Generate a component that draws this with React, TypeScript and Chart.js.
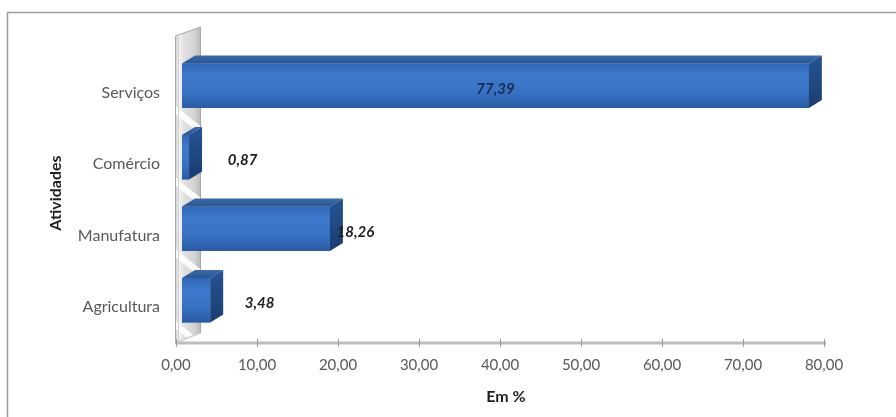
import React, { useEffect, useRef } from "react";
import { Chart, registerables } from "chart.js";

Chart.register(...registerables);

const categories = ["Serviços", "Comércio", "Manufatura", "Agricultura"];
const values = [77.39, 0.87, 18.26, 3.48];
const xMin = 0;
const xMax = 80;
const xStep = 10;
const xAxisTitle = "Em %";
const yAxisTitle = "Atividades";

const fmt = (v: number) => Number(v).toFixed(2).replace(".", ",");

const DX = 13;
const DY = -8;
const FONT = "Lato, 'Open Sans', sans-serif";

const bar3dPlugin = {
  id: "bar3d",
  beforeDraw(chart: any) {
    const ctx = chart.ctx as CanvasRenderingContext2D;
    const { left, top, bottom } = chart.chartArea;
    ctx.save();
    ctx.fillStyle = "#ffffff";
    ctx.fillRect(0, 0, chart.width, chart.height);
    ctx.strokeStyle = "#9c9c9c";
    ctx.lineWidth = 1.5;
    ctx.strokeRect(7.5, 12.5, chart.width + 20, chart.height + 20);

    // left wall
    const wx0 = left - 7;
    const wx1 = left + 18;
    const pts: [number, number][] = [
      [wx0, top - 14],
      [wx1, top - 23],
      [wx1, bottom - 3],
      [wx0, bottom + 7],
    ];
    ctx.beginPath();
    ctx.moveTo(pts[0][0], pts[0][1]);
    for (let i = 1; i < pts.length; i++) ctx.lineTo(pts[i][0], pts[i][1]);
    ctx.closePath();
    const g = ctx.createLinearGradient(wx0, 0, wx1, 0);
    g.addColorStop(0, "#c4c4c4");
    g.addColorStop(0.15, "#f6f6f6");
    g.addColorStop(0.35, "#e2e2e2");
    g.addColorStop(0.8, "#d2d2d2");
    g.addColorStop(1, "#bcbcbc");
    ctx.fillStyle = g;
    ctx.fill();
    ctx.save();
    ctx.clip();
    // white reflective streaks in the gaps between bars
    const yScale = chart.scales.y;
    const n = categories.length;
    for (let i = 0; i < n; i++) {
      const c = yScale.getPixelForValue(i);
      const gy = c + 34;
      ctx.beginPath();
      ctx.moveTo(wx0, gy - 14);
      ctx.lineTo(wx1, gy + 6);
      ctx.lineTo(wx1, gy + 14);
      ctx.lineTo(wx0, gy - 6);
      ctx.closePath();
      ctx.fillStyle = "rgba(255,255,255,0.9)";
      ctx.fill();
    }
    ctx.restore();
    ctx.strokeStyle = "#a8a8a8";
    ctx.lineWidth = 1;
    ctx.beginPath();
    ctx.moveTo(wx0 + 0.5, bottom + 7);
    ctx.lineTo(wx0 + 0.5, top - 14);
    ctx.lineTo(wx1 + 0.5, top - 23);
    ctx.lineTo(wx1 + 0.5, bottom - 3);
    ctx.stroke();
    ctx.strokeStyle = "#d0d0d0";
    ctx.beginPath();
    ctx.moveTo(wx0 + 3.5, bottom + 5);
    ctx.lineTo(wx0 + 3.5, top - 15);
    ctx.stroke();
    ctx.restore();
  },
  beforeDatasetsDraw(chart: any) {
    const ctx = chart.ctx as CanvasRenderingContext2D;
    const xScale = chart.scales.x;
    const { left, bottom } = chart.chartArea;
    const yLine = bottom + 7;
    ctx.save();
    // floor diagonal
    ctx.strokeStyle = "#cfcfcf";
    ctx.lineWidth = 1.5;
    ctx.beginPath();
    ctx.moveTo(left - 7, yLine);
    ctx.lineTo(left + 18, bottom - 3);
    ctx.stroke();
    // axis line
    ctx.strokeStyle = "#bdbdbd";
    ctx.lineWidth = 3;
    ctx.beginPath();
    ctx.moveTo(left - 7, yLine);
    ctx.lineTo(xScale.getPixelForValue(xMax) - 4, yLine);
    ctx.stroke();
    ctx.strokeStyle = "#9a9a9a";
    ctx.lineWidth = 1;
    for (let v = xMin; v <= xMax; v += xStep) {
      const px = Math.round(xScale.getPixelForValue(v) - 6) + 0.5;
      ctx.beginPath();
      ctx.moveTo(px, yLine - 4);
      ctx.lineTo(px, yLine + 4);
      ctx.stroke();
    }
    ctx.restore();
  },
  afterDatasetsDraw(chart: any) {
    const ctx = chart.ctx as CanvasRenderingContext2D;
    const meta = chart.getDatasetMeta(0);
    ctx.save();
    meta.data.forEach((el: any, i: number) => {
      const p = el.getProps(["x", "y", "base", "height"], true);
      const x0 = p.base;
      const x1 = p.x;
      const yT = p.y - p.height / 2;
      const yB = p.y + p.height / 2;
      // front face
      const fg = ctx.createLinearGradient(0, yT, 0, yB);
      fg.addColorStop(0, "#3166b3");
      fg.addColorStop(0.25, "#3d79cc");
      fg.addColorStop(0.65, "#3872c4");
      fg.addColorStop(1, "#2a5ba3");
      ctx.fillStyle = fg;
      ctx.fillRect(x0, yT, x1 - x0, yB - yT);
      // top face
      ctx.beginPath();
      ctx.moveTo(x0, yT);
      ctx.lineTo(x1, yT);
      ctx.lineTo(x1 + DX, yT + DY);
      ctx.lineTo(x0 + DX, yT + DY);
      ctx.closePath();
      const tg = ctx.createLinearGradient(0, yT + DY, 0, yT);
      tg.addColorStop(0, "#3b6aa8");
      tg.addColorStop(1, "#2a5593");
      ctx.fillStyle = tg;
      ctx.fill();
      // side face
      ctx.beginPath();
      ctx.moveTo(x1, yT);
      ctx.lineTo(x1 + DX, yT + DY);
      ctx.lineTo(x1 + DX, yB + DY);
      ctx.lineTo(x1, yB);
      ctx.closePath();
      const sg = ctx.createLinearGradient(0, yT, 0, yB);
      sg.addColorStop(0, "#24508f");
      sg.addColorStop(1, "#1a3d70");
      ctx.fillStyle = sg;
      ctx.fill();

      // value label
      const v = values[i];
      ctx.font = `italic bold 15px ${FONT}`;
      ctx.textAlign = "center";
      ctx.textBaseline = "middle";
      let lx: number;
      if (v > 50) {
        lx = (x0 + x1) / 2;
        ctx.fillStyle = "#1b2b52";
      } else {
        lx = x0 + (x1 - x0) * 0.8 + 55;
        ctx.fillStyle = "#1e1e1e";
      }
      ctx.fillText(fmt(v), lx, p.y + 3);
    });
    ctx.restore();
  },
};

export default function App() {
  const ref = useRef<HTMLCanvasElement | null>(null);
  useEffect(() => {
    if (!ref.current) return;
    const chart = new Chart(ref.current, {
      type: "bar",
      data: {
        labels: categories,
        datasets: [
          {
            data: values,
            backgroundColor: "#3a72c0",
            borderWidth: 0,
            barPercentage: 0.62,
            categoryPercentage: 1,
          },
        ],
      },
      options: {
        indexAxis: "y",
        animation: false,
        responsive: false,
        maintainAspectRatio: false,
        layout: { padding: { left: 0, top: 50, right: 66, bottom: 0 } },
        plugins: {
          legend: { display: false },
          tooltip: { enabled: false },
        },
        scales: {
          x: {
            type: "linear",
            min: xMin,
            max: xMax,
            ticks: {
              stepSize: xStep,
              callback: (v: any) => fmt(v),
              color: "#595959",
              font: { family: FONT, size: 15 },
              padding: 20,
              labelOffset: -6,
              maxRotation: 0,
              autoSkip: false,
            },
            grid: { display: false, drawTicks: false },
            border: { display: false },
            title: {
              display: true,
              text: xAxisTitle,
              color: "#1f1f1f",
              font: { family: FONT, size: 16, weight: "bold" },
              padding: { top: 0, bottom: 11 },
            },
            afterFit: (s: any) => {
              s.height = 81;
            },
          },
          y: {
            ticks: {
              color: "#595959",
              font: { family: FONT, size: 16 },
              padding: 22,
              labelOffset: 7,
            },
            grid: { display: false, drawTicks: false },
            border: { display: false },
            title: {
              display: true,
              text: yAxisTitle,
              color: "#1f1f1f",
              font: { family: FONT, size: 16, weight: "bold" },
              padding: { top: 46, bottom: 0 },
            },
            afterFit: (s: any) => {
              s.width = 182;
            },
          },
        },
      },
      plugins: [bar3dPlugin],
    } as any);
    return () => chart.destroy();
  }, []);
  return (
    <div style={{ position: "fixed", left: 0, top: 0, width: 896, height: 417 }}>
      <canvas ref={ref} width={896} height={417} style={{ display: "block" }} />
    </div>
  );
}
